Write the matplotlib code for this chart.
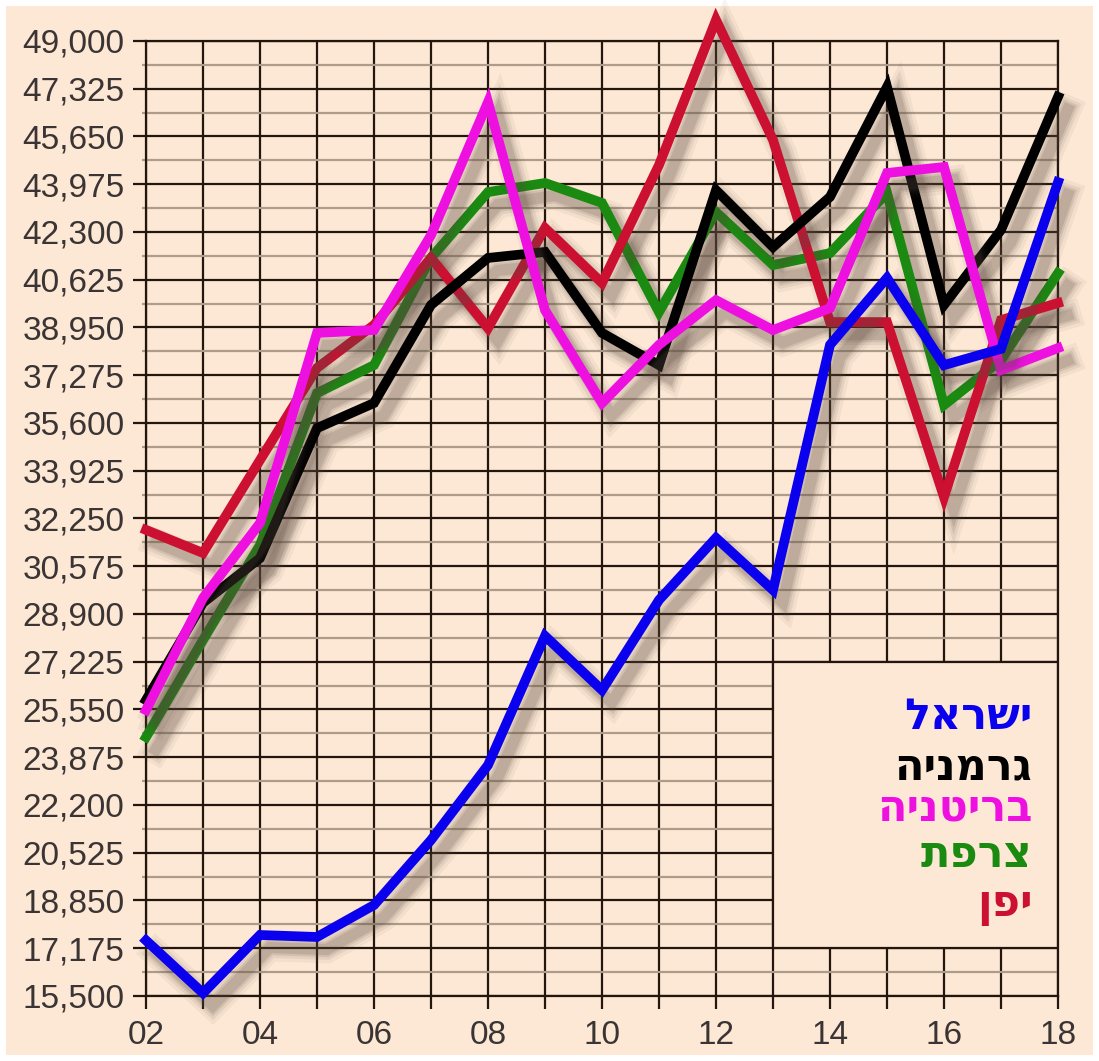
import numpy as np
import matplotlib.pyplot as plt
import matplotlib.patheffects as pe
from matplotlib.patches import Rectangle

# years 2002..2018, labelled by two digits
years = list(range(2, 19))
year_labels = ["02", "", "04", "", "06", "", "08", "", "10", "", "12", "", "14", "", "16", "", "18"]

israel = [17450, 15600, 17640, 17570, 18690, 20970, 23600, 28130, 26230, 29390,
          31570, 29740, 38340, 40690, 37630, 38200, 44050]
germany = [25880, 29290, 30860, 35420, 36300, 39740, 41390, 41600, 38760, 37630,
           43770, 41770, 43530, 47390, 39740, 42370, 47040]
britain = [25530, 29460, 32090, 38760, 38860, 42190, 46860, 39560, 36300, 38340,
           39910, 38860, 39630, 44370, 44580, 37460, 38230]
france = [24580, 27990, 31320, 36650, 37630, 41390, 43700, 44020, 43320, 39490,
          43000, 41140, 41560, 43670, 36230, 37810, 40860]
japan = [31850, 31040, 34300, 37530, 39040, 41390, 38930, 42440, 40510, 44650,
         49740, 45530, 39140, 39140, 33000, 39210, 39810]

names = ["ישראל", "גרמניה", "בריטניה", "צרפת", "יפן"]
colors = ["#0a00ee", "#000000", "#ee10e0", "#1a8a10", "#cc1032"]
series = [israel, germany, britain, france, japan]

bg = "#fce8d4"
fig = plt.figure(figsize=(10.99, 10.61), dpi=100, facecolor="white")
fig.patches.append(Rectangle((6 / 1099, 6 / 1061), 1087 / 1099, 1049 / 1061,
                             transform=fig.transFigure, facecolor=bg, edgecolor="none", zorder=-10))
ax = fig.add_axes([146 / 1099, 1 - 996 / 1061, 912 / 1099, 955 / 1061])
ax.set_facecolor(bg)

ax.set_xlim(2, 18)
ax.set_ylim(15500, 49000)
yt = np.arange(15500, 49001, 1675)
ax.set_yticks(yt)
ax.set_yticklabels(["{:,}".format(v) for v in yt])
ax.set_yticks(yt[:-1] + 837.5, minor=True)
ax.set_xticks(years)
ax.set_xticklabels(year_labels)

ax.grid(True, which="major", color="#24160c", linewidth=1.6, zorder=1)
ax.grid(True, which="minor", axis="y", color="#ad9c8a", linewidth=1.6, zorder=0)
ax.tick_params(which="major", length=9.5, width=1.6, color="#24160c",
               labelsize=24, labelcolor="#3a3434", pad=6)
ax.tick_params(which="minor", length=3, width=1.6, color="#ad9c8a")
ax.tick_params(axis="x", pad=8)
for t in ax.get_xticklabels() + ax.get_yticklabels():
    t.set_fontfamily("Liberation Sans")
for s in ax.spines.values():
    s.set_color("#24160c")
    s.set_linewidth(1.6)

# legend box drawn over the grid
ax.add_patch(Rectangle((13, 17175), 5, 27225 - 17175, facecolor=bg,
                       edgecolor="#24160c", linewidth=1.6, zorder=2))

shadow = [pe.SimpleLineShadow(offset=(7, -9), shadow_color="#5a4a40", alpha=a, linewidth=w)
          for w, a in [(20, 0.06), (15, 0.09), (11, 0.13), (8, 0.16)]] + [pe.Normal()]

order = [3, 4, 1, 2, 0]
for i in order:
    ax.plot(years, series[i], color=colors[i], linewidth=7, solid_joinstyle="miter",
            clip_on=False, zorder=5 + order.index(i), path_effects=shadow)

text_y = [25290, 23500, 22090, 20450, 18690]
for name, c, ty in zip(names, colors, text_y):
    # matplotlib lays text out left to right, so reverse the Hebrew for display
    ax.text(17.55, ty, name[::-1], color=c, fontsize=31, fontweight="bold",
            family="DejaVu Sans", ha="right", va="center", zorder=10)

fig.savefig("out.png", dpi=100, facecolor="white")
